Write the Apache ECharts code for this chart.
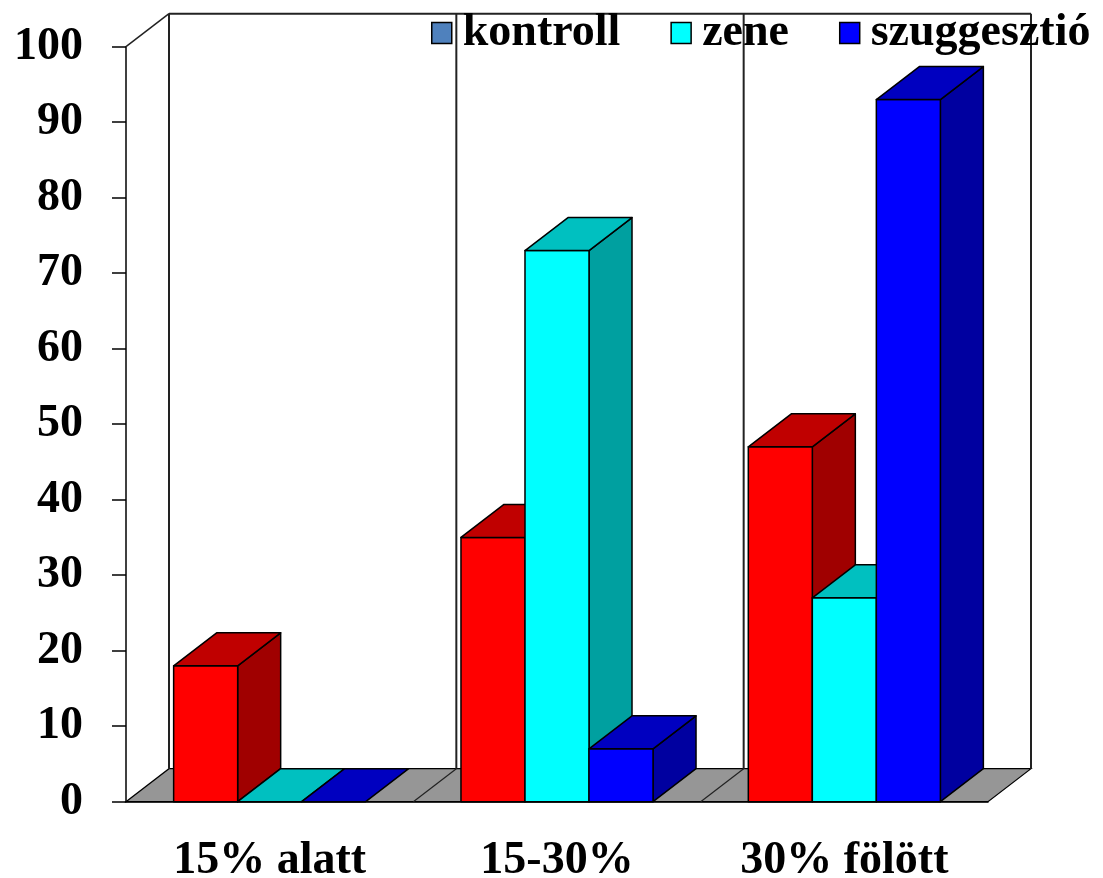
<!DOCTYPE html>
<html>
<head>
<meta charset="utf-8">
<title>kontroll / zene / szuggesztió</title>
<script src="https://cdn.jsdelivr.net/npm/echarts@6/dist/echarts.min.js"></script>
<style>
  html, body { margin: 0; padding: 0; background: #fff; }
  #chart { width: 1103px; height: 878px; }
</style>
</head>
<body>
<div id="chart"></div>
<script>
// Categories and series values (percent)
const categories = ['15% alatt', '15-30%', '30% fölött'];
const kontroll = [18, 35, 47];
const zene = [0, 73, 27];
const szuggesztio = [0, 7, 93];
const yTicks = [0, 10, 20, 30, 40, 50, 60, 70, 80, 90, 100];

// 3D look: depth offset of the box, bar width as share of a category band
const DX = 43, DY = -33;
const BAR_RATIO = 0.2228;
const FONT = '"Liberation Serif", "Times New Roman", serif';

const palettes = [
  { front: '#FF0000', top: '#C00000', side: '#A00000' },
  { front: '#00FFFF', top: '#00C0C0', side: '#00A0A0' },
  { front: '#0000FF', top: '#0000C0', side: '#0000A0' }
];
const outline = { stroke: '#000', lineWidth: 1.5, lineJoin: 'round' };

function poly(points, fill) {
  return { type: 'polygon', shape: { points }, style: Object.assign({ fill }, outline) };
}

function barRenderer(idx) {
  const c = palettes[idx];
  return function (params, api) {
    const cat = api.value(0), val = api.value(1);
    const base = api.coord([cat, 0]);
    const top = api.coord([cat, val]);
    const bw = api.size([1, 0])[0] * BAR_RATIO;
    const x0 = base[0] - 1.5 * bw + idx * bw, x1 = x0 + bw;
    const y0 = base[1], y1 = top[1];
    const children = [];
    if (y0 - y1 > 0.5) {
      children.push(poly([[x1, y0], [x1 + DX, y0 + DY], [x1 + DX, y1 + DY], [x1, y1]], c.side));
      children.push(poly([[x0, y0], [x1, y0], [x1, y1], [x0, y1]], c.front));
    }
    children.push(poly([[x0, y1], [x1, y1], [x1 + DX, y1 + DY], [x0 + DX, y1 + DY]], c.top));
    return { type: 'group', children };
  };
}

// Floor, back wall and side wall of the box
function wallsRenderer(params, api) {
  const band = api.size([1, 0])[0];
  const n = categories.length;
  const left = api.coord([0, 0])[0] - band / 2;
  const right = api.coord([n - 1, 0])[0] + band / 2;
  const yb = api.coord([0, yTicks[0]])[1];
  const yt = api.coord([0, yTicks[yTicks.length - 1]])[1];
  const line = (x1, y1, x2, y2, w) => ({
    type: 'line', shape: { x1, y1, x2, y2 },
    style: { stroke: '#222', lineWidth: w || 1.5 }
  });
  const children = [];
  children.push({
    type: 'polygon',
    shape: { points: [[left, yb], [right, yb], [right + DX, yb + DY], [left + DX, yb + DY]] },
    style: { fill: '#969696', stroke: '#000', lineWidth: 1.2 }
  });
  for (let i = 0; i <= n; i++) {
    const x = left + i * band;
    children.push(line(x + DX, yb + DY, x + DX, yt + DY, 2));
    if (i > 0 && i < n) children.push(line(x, yb, x + DX, yb + DY, 1.2));
  }
  children.push(line(left + DX, yt + DY, right + DX, yt + DY, 2));
  children.push(line(left, yt, left + DX, yt + DY, 1.5));
  return { type: 'group', children };
}

const chart = echarts.init(document.getElementById('chart'), null, { renderer: 'canvas' });
chart.setOption({
  animation: false,
  backgroundColor: '#fff',
  grid: { left: 126, right: 115, top: 46.7, bottom: 76.3, containLabel: false, outerBoundsMode: 'none' },
  legend: {
    left: 426, top: 5,
    icon: 'rect', itemWidth: 20, itemHeight: 21, itemGap: 50,
    textStyle: { fontFamily: FONT, fontWeight: 'bold', fontSize: 46, color: '#000', padding: [0, 0, 0, 6] },
    itemStyle: { borderColor: '#000', borderWidth: 1.5 },
    data: [
      { name: 'kontroll', itemStyle: { color: '#4F81BD' } },
      { name: 'zene', itemStyle: { color: '#00FFFF' } },
      { name: 'szuggesztió', itemStyle: { color: '#0000FF' } }
    ],
    selectedMode: false
  },
  xAxis: {
    type: 'category',
    data: categories,
    axisLine: { lineStyle: { color: '#000', width: 1.5 } },
    axisTick: { length: 15, lineStyle: { color: '#000', width: 1.5 } },
    axisLabel: { fontFamily: FONT, fontWeight: 'bold', fontSize: 46, color: '#000', margin: 36 }
  },
  yAxis: {
    type: 'value',
    min: yTicks[0], max: yTicks[yTicks.length - 1], interval: 10,
    splitLine: { show: false },
    axisLine: { show: true, lineStyle: { color: '#000', width: 1.5 } },
    axisTick: { show: true, length: 14, lineStyle: { color: '#000', width: 1.5 } },
    axisLabel: { fontFamily: FONT, fontWeight: 'bold', fontSize: 46, color: '#000', margin: 43 }
  },
  series: [
    { type: 'custom', name: 'walls', z: 1, clip: false, silent: true,
      renderItem: wallsRenderer, data: [[0, 0]], encode: { x: 0, y: 1 } },
    { type: 'custom', name: 'kontroll', z: 2, clip: false, renderItem: barRenderer(0),
      data: kontroll.map((v, i) => [i, v]), encode: { x: 0, y: 1 } },
    { type: 'custom', name: 'zene', z: 3, clip: false, renderItem: barRenderer(1),
      data: zene.map((v, i) => [i, v]), encode: { x: 0, y: 1 } },
    { type: 'custom', name: 'szuggesztió', z: 4, clip: false, renderItem: barRenderer(2),
      data: szuggesztio.map((v, i) => [i, v]), encode: { x: 0, y: 1 } }
  ]
});
</script>
</body>
</html>
